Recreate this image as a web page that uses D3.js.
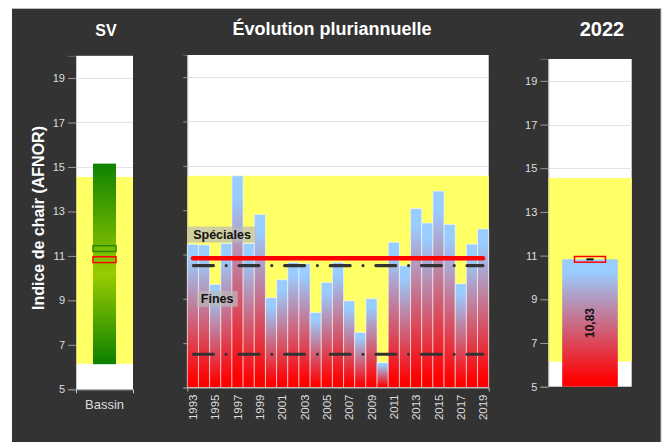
<!DOCTYPE html>
<html>
<head>
<meta charset="utf-8">
<script src="https://cdn.jsdelivr.net/npm/d3@7"></script>
<style>
  body { margin: 0; background: #fff; }
  svg { display: block; font-family: "Liberation Sans", Arial, Helvetica, sans-serif; }
</style>
</head>
<body>
<script>
// data
const years = ['1993', '1994', '1995', '1996', '1997', '1998', '1999', '2000', '2001',
  '2002', '2003', '2004', '2005', '2006', '2007', '2008', '2009', '2010', '2011',
  '2012', '2013', '2014', '2015', '2016', '2017', '2018', '2019'];
const yearValues = [11.46, 11.43, 9.65, 11.5, 14.55, 11.5, 12.81, 9.05, 9.86,
  10.64, 10.58, 8.38, 9.74, 10.64, 8.91, 7.48, 9.01, 6.12, 11.55,
  10.49, 13.07, 12.42, 13.86, 12.36, 9.68, 11.47, 12.15];
const normalBand = [6.15, 14.55];       // yellow zone
const basinRange = [6.13, 15.15];       // green bar SV
const basinMean = 11.33;                // green marker
const currentValue = 10.83;             // 2022
const currentLabel = '10,83';
const markerHalf = 0.13;
const thresholds = [
  {name: 'Spéciales', value: 10.5, labelAt: 11.9},
  {name: 'Fines', value: 6.5, labelAt: 9.0}
];
const yTicks = [5, 7, 9, 11, 13, 15, 17, 19];
const yDomain = [5, 20];

const W = 664, H = 442;
const svg = d3.select('body').append('svg').attr('width', W).attr('height', H);

// dark frame
svg.append('rect').attr('x', 12).attr('y', 8).attr('width', 649).attr('height', H - 8)
    .attr('fill', '#333');
svg.append('line').attr('x1', 12).attr('x2', 661).attr('y1', 8.5).attr('y2', 8.5)
    .attr('stroke', '#bbb');
svg.append('line').attr('x1', 661).attr('x2', 661).attr('y1', 8).attr('y2', H)
    .attr('stroke', '#bbb');

const defs = svg.append('defs');
const gBar = defs.append('linearGradient').attr('id', 'gBar')
    .attr('x1', 0).attr('x2', 0).attr('y1', 0).attr('y2', 1);
gBar.append('stop').attr('offset', '0%').attr('stop-color', '#99ccff');
gBar.append('stop').attr('offset', '10%').attr('stop-color', '#99ccff');
gBar.append('stop').attr('offset', '95%').attr('stop-color', '#ff0000');
gBar.append('stop').attr('offset', '100%').attr('stop-color', '#ff0000');

const gGreen = defs.append('linearGradient').attr('id', 'gGreen')
    .attr('x1', 0).attr('x2', 0).attr('y1', 0).attr('y2', 1);
gGreen.append('stop').attr('offset', '0%').attr('stop-color', '#0e8200');
gGreen.append('stop').attr('offset', '55%').attr('stop-color', '#99cc00');
gGreen.append('stop').attr('offset', '100%').attr('stop-color', '#0b8000');

// common panel background: white, grid, yellow band
function panel(x0, x1, y, labels) {
  const g = svg.append('g');
  g.append('rect').attr('x', x0).attr('y', y(yDomain[1])).attr('width', x1 - x0)
      .attr('height', y(yDomain[0]) - y(yDomain[1])).attr('fill', '#fff');
  g.selectAll('.grid').data(yTicks.slice(1)).join('line')
      .attr('x1', x0).attr('x2', x1)
      .attr('y1', d => Math.round(y(d)) + 0.5).attr('y2', d => Math.round(y(d)) + 0.5)
      .attr('stroke', '#e4e4e4');
  g.append('rect').attr('x', x0).attr('y', y(normalBand[1])).attr('width', x1 - x0)
      .attr('height', y(normalBand[0]) - y(normalBand[1])).attr('fill', '#ffff66');
  const ax = d3.axisLeft(y).tickValues(yTicks).tickSize(8).tickPadding(3);
  if (!labels) ax.tickFormat('').tickSize(4);
  const a = svg.append('g').attr('transform', `translate(${x0},0)`).call(ax);
  a.select('.domain').attr('stroke', '#999').attr('stroke-opacity', 0.5);
  a.selectAll('.tick line').attr('stroke', '#999');
  a.selectAll('.tick text').attr('fill', '#ddd').attr('font-size', 11);
  return g;
}

// ---- left panel: SV / Bassin
const xL = d3.scaleBand().domain(['Bassin']).range([76, 133]).paddingInner(0).paddingOuter(0.74);
const yL = d3.scaleLinear().domain(yDomain).range([389.3, 55.8]);
panel(76, 133, yL, true);
svg.append('rect').attr('x', xL('Bassin')).attr('width', xL.bandwidth())
    .attr('y', yL(basinRange[1])).attr('height', yL(basinRange[0]) - yL(basinRange[1]))
    .attr('fill', 'url(#gGreen)');
svg.append('rect').attr('x', xL('Bassin')).attr('width', xL.bandwidth())
    .attr('y', yL(basinMean + markerHalf)).attr('height', yL(basinMean - markerHalf) - yL(basinMean + markerHalf))
    .attr('fill', 'none').attr('stroke', '#2a8a00').attr('stroke-width', 1.5);
svg.append('rect').attr('x', xL('Bassin')).attr('width', xL.bandwidth())
    .attr('y', yL(currentValue + markerHalf)).attr('height', yL(currentValue - markerHalf) - yL(currentValue + markerHalf))
    .attr('fill', 'none').attr('stroke', '#ff0000').attr('stroke-width', 1.5);
const axL = svg.append('g').attr('transform', `translate(0,${yL(yDomain[0])})`)
    .call(d3.axisBottom(xL).tickSizeInner(0).tickSizeOuter(4).tickPadding(10));
axL.select('.domain').attr('stroke', '#ccc');
axL.selectAll('.tick text').attr('fill', '#ddd').attr('font-size', 13);

// ---- middle panel: pluriannual evolution
const xM = d3.scaleBand().domain(years).range([187.3, 488.7]).padding(0);
const yM = d3.scaleLinear().domain(yDomain).range([387.5, 55]);
panel(187.3, 488.7, yM, false);
svg.append('g').selectAll('rect').data(years).join('rect')
    .attr('x', d => xM(d)).attr('width', xM.bandwidth())
    .attr('y', (d, i) => yM(yearValues[i]))
    .attr('height', (d, i) => yM(yDomain[0]) - yM(yearValues[i]))
    .attr('fill', 'url(#gBar)')
    .attr('stroke', '#fff').attr('stroke-opacity', 0.55).attr('stroke-width', 1);

svg.append('line').attr('x1', 193).attr('x2', 483)
    .attr('y1', yM(currentValue)).attr('y2', yM(currentValue))
    .attr('stroke', '#ff0000').attr('stroke-width', 4.5).attr('stroke-linecap', 'round');
svg.append('g').selectAll('line').data(thresholds).join('line')
    .attr('x1', 193.4).attr('x2', 483)
    .attr('y1', d => yM(d.value)).attr('y2', d => yM(d.value))
    .attr('stroke', '#333').attr('stroke-width', 3.2).attr('stroke-linecap', 'round')
    .attr('stroke-dasharray', '20,12.8,0,12.8');

const lab = svg.append('g').selectAll('g').data(thresholds).join('g')
    .attr('transform', d => `translate(${d.name === 'Fines' ? 196.7 : 188},${yM(d.labelAt)})`);
lab.append('rect').attr('y', -8).attr('height', 16)
    .attr('width', d => d.name === 'Fines' ? 41 : 68)
    .attr('fill', '#bbb').attr('fill-opacity', 0.7);
lab.append('text').attr('x', d => d.name === 'Fines' ? 20.5 : 34).attr('y', 4.5)
    .attr('text-anchor', 'middle').attr('font-size', 12.5).attr('font-weight', 'bold')
    .attr('fill', '#111').text(d => d.name);

const axM = svg.append('g').attr('transform', `translate(0,${yM(yDomain[0])})`)
    .call(d3.axisBottom(xM).tickSizeInner(0).tickSizeOuter(4).tickPadding(0)
        .tickFormat(d => (+d - 1993) % 2 === 0 ? d : ''));
axM.select('.domain').attr('stroke', '#bbb');
axM.selectAll('.tick text').attr('fill', '#ddd').attr('font-size', 11.5)
    .attr('text-anchor', 'end').attr('transform', 'rotate(-90)')
    .attr('x', -7).attr('y', 0).attr('dy', '0.36em');

// ---- right panel: 2022
const xR = d3.scaleBand().domain(['2022']).range([548.3, 631.7]).paddingInner(0).paddingOuter(0.25);
const yR = d3.scaleLinear().domain(yDomain).range([386.7, 59]);
panel(548.3, 631.7, yR, true);
svg.append('rect').attr('x', xR('2022')).attr('width', xR.bandwidth())
    .attr('y', yR(currentValue)).attr('height', yR(yDomain[0]) - yR(currentValue))
    .attr('fill', 'url(#gBar)');
const cx = xR('2022') + xR.bandwidth() / 2;
svg.append('rect').attr('x', cx - 15.5).attr('width', 31)
    .attr('y', yR(currentValue + markerHalf)).attr('height', yR(currentValue - markerHalf) - yR(currentValue + markerHalf))
    .attr('fill', 'none').attr('stroke', '#ff0000').attr('stroke-width', 1.5);
svg.append('line').attr('x1', cx - 3.6).attr('x2', cx + 3.6)
    .attr('y1', yR(currentValue)).attr('y2', yR(currentValue))
    .attr('stroke', '#111').attr('stroke-width', 2);
svg.append('text')
    .attr('transform', `translate(${cx},${(yR(currentValue) + yR(yDomain[0])) / 2}) rotate(-90)`)
    .attr('text-anchor', 'middle').attr('dy', '0.36em')
    .attr('font-size', 12).attr('font-weight', 'bold').attr('fill', '#111')
    .text(currentLabel);

// ---- titles
const title = (x, y, size, txt) => svg.append('text').attr('x', x).attr('y', y)
    .attr('text-anchor', 'middle').attr('font-size', size).attr('font-weight', 'bold')
    .attr('fill', '#fff').text(txt);
title(106, 36, 16, 'SV');
title(332, 35, 18, 'Évolution pluriannuelle');
title(602, 36, 20, '2022');
svg.append('text').attr('transform', 'translate(44,218) rotate(-90)')
    .attr('text-anchor', 'middle').attr('font-size', 16).attr('font-weight', 'bold')
    .attr('fill', '#fff').text('Indice de chair (AFNOR)');
</script>
</body>
</html>
